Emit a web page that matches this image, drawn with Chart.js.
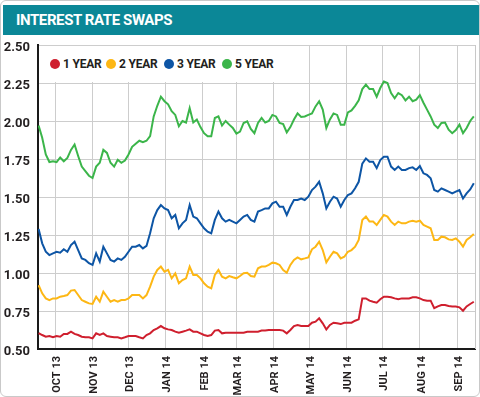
<!DOCTYPE html>
<html>
<head>
<meta charset="utf-8">
<script src="https://cdn.jsdelivr.net/npm/chart.js@4/dist/chart.umd.min.js"></script>
<style>
  html, body { margin: 0; padding: 0; background: #fff; }
  #wrap { position: relative; width: 480px; height: 397px; overflow: hidden; }
  #frame { position: absolute; left: 0; top: 0; width: 480px; height: 397px; box-sizing: border-box; border: 1px solid #c9c9c9; border-radius: 6px; pointer-events: none; }
  #title { position: absolute; left: 3px; top: 5px; width: 477px; height: 30px; background: #0b8797; color: #fff;
           font-family: "Roboto", sans-serif; font-weight: bold; font-size: 15px; line-height: 31px; padding-left: 13px; box-sizing: border-box; letter-spacing: -0.4px; }
  #legend { position: absolute; left: 39px; top: 46px; width: 252px; height: 36px; background: #fff; }
  .item { position: absolute; top: 0; height: 36px; display: flex; align-items: center;
          font-family: "Roboto", sans-serif; font-weight: bold; font-size: 12px; color: #231f20; letter-spacing: -0.2px; }
  .dot { width: 10px; height: 10px; border-radius: 50%; margin-right: 3px; }
  canvas { position: absolute; left: 0; top: 0; }
</style>
</head>
<body>
<div id="wrap">
  <canvas id="c" width="480" height="397"></canvas>
  <div id="title">INTEREST RATE SWAPS</div>
  <div id="legend"></div>
  <div id="frame"></div>
</div>
<script>
// Days since 1 Oct 2013
const days = [-14,-11,-8,-5,-2,1,4,7,10,13,16,19,22,25,28,31,34,37,40,43,46,49,52,55,58,61,64,67,70,73,76,79,82,85,88,91,94,97,100,103,106,109,112,115,118,121,124,127,130,133,136,139,142,145,148,151,154,157,160,163,166,169,172,175,178,181,184,187,190,193,196,199,202,205,208,211,214,217,220,223,226,229,232,235,238,241,244,247,250,253,256,259,262,265,268,271,274,277,280,283,286,289,292,295,298,301,304,307,310,313,316,319,322,325,328,331,334,337,340,343,346,349];

const oneYear = [0.605,0.592,0.581,0.585,0.577,0.585,0.581,0.599,0.599,0.614,0.599,0.592,0.581,0.577,0.577,0.570,0.603,0.592,0.603,0.585,0.581,0.577,0.577,0.570,0.577,0.585,0.585,0.585,0.577,0.570,0.592,0.603,0.625,0.636,0.651,0.636,0.629,0.625,0.614,0.607,0.614,0.621,0.629,0.614,0.614,0.603,0.592,0.585,0.592,0.621,0.625,0.603,0.607,0.607,0.607,0.607,0.607,0.607,0.614,0.614,0.614,0.614,0.621,0.621,0.625,0.625,0.625,0.625,0.621,0.603,0.625,0.651,0.658,0.651,0.651,0.651,0.673,0.680,0.702,0.669,0.629,0.658,0.673,0.669,0.664,0.673,0.673,0.673,0.686,0.695,0.833,0.833,0.818,0.811,0.805,0.827,0.844,0.844,0.840,0.833,0.827,0.833,0.833,0.833,0.840,0.840,0.833,0.822,0.818,0.818,0.768,0.780,0.789,0.789,0.783,0.780,0.780,0.774,0.752,0.780,0.796,0.811];

const twoYear = [0.920,0.866,0.833,0.822,0.833,0.833,0.844,0.849,0.855,0.884,0.888,0.855,0.822,0.811,0.800,0.796,0.844,0.811,0.877,0.844,0.811,0.822,0.811,0.822,0.822,0.833,0.855,0.855,0.855,0.833,0.855,0.910,0.976,1.020,1.042,1.009,1.020,0.965,0.998,0.932,0.954,0.965,1.042,0.987,0.987,0.965,0.932,0.910,0.899,0.987,1.020,0.976,0.965,0.980,0.972,0.965,0.980,0.998,1.002,0.980,0.976,1.031,1.042,1.042,1.053,1.068,1.064,1.053,1.020,1.002,1.053,1.086,1.103,1.090,1.096,1.103,1.156,1.173,1.206,1.151,1.070,1.107,1.140,1.129,1.096,1.107,1.140,1.151,1.173,1.217,1.349,1.371,1.338,1.338,1.316,1.349,1.382,1.371,1.338,1.316,1.338,1.327,1.327,1.338,1.344,1.338,1.344,1.316,1.305,1.294,1.217,1.217,1.239,1.235,1.221,1.217,1.228,1.206,1.173,1.217,1.235,1.257];

const threeYear = [1.290,1.195,1.140,1.118,1.129,1.140,1.134,1.156,1.140,1.184,1.206,1.151,1.096,1.086,1.064,1.053,1.129,1.075,1.173,1.129,1.086,1.075,1.096,1.086,1.107,1.140,1.173,1.173,1.184,1.162,1.178,1.261,1.360,1.414,1.447,1.425,1.414,1.360,1.382,1.294,1.327,1.349,1.447,1.371,1.360,1.327,1.294,1.272,1.261,1.349,1.404,1.360,1.338,1.349,1.338,1.327,1.349,1.371,1.382,1.349,1.338,1.404,1.414,1.425,1.425,1.458,1.469,1.436,1.436,1.382,1.436,1.480,1.480,1.490,1.480,1.502,1.546,1.568,1.600,1.524,1.425,1.469,1.502,1.490,1.436,1.480,1.513,1.524,1.557,1.600,1.720,1.754,1.732,1.732,1.690,1.743,1.765,1.765,1.700,1.678,1.700,1.678,1.678,1.690,1.695,1.678,1.704,1.656,1.645,1.623,1.546,1.535,1.557,1.546,1.535,1.524,1.535,1.546,1.490,1.524,1.550,1.590];

const fiveYear = [1.970,1.890,1.780,1.730,1.735,1.730,1.760,1.735,1.757,1.810,1.845,1.770,1.700,1.670,1.640,1.625,1.700,1.725,1.810,1.790,1.725,1.700,1.745,1.725,1.740,1.780,1.830,1.850,1.870,1.860,1.870,1.900,2.030,2.100,2.160,2.130,2.110,2.065,2.040,1.965,2.000,1.990,2.085,1.990,2.010,1.960,1.920,1.900,1.900,2.020,2.030,1.970,2.000,1.976,1.954,1.917,1.930,1.987,1.998,1.948,1.920,1.987,2.020,1.990,2.000,2.040,2.030,1.987,1.980,1.925,1.960,2.010,2.050,2.027,2.030,2.040,2.050,2.096,2.130,2.075,1.954,2.010,2.050,2.040,1.976,1.976,2.057,2.070,2.100,2.136,2.210,2.240,2.210,2.210,2.160,2.217,2.260,2.250,2.184,2.150,2.184,2.170,2.136,2.160,2.130,2.140,2.170,2.120,2.075,2.030,1.976,1.954,1.987,1.990,1.943,1.920,1.940,1.976,1.920,1.954,2.000,2.030];

const seriesNames = ['1 YEAR', '2 YEAR', '3 YEAR', '5 YEAR'];
const seriesColors = ['#cf1f2e', '#fdb714', '#0d55a5', '#3bb54a'];
const monthStarts = [0, 31, 61, 92, 123, 151, 182, 212, 243, 273, 304, 335];
const monthLabels = ['OCT 13', 'NOV 13', 'DEC 13', 'JAN 14', 'FEB 14', 'MAR 14', 'APR 14', 'MAY 14', 'JUN 14', 'JUL 14', 'AUG 14', 'SEP 14'];
const yTicks = [0.50, 0.75, 1.00, 1.25, 1.50, 1.75, 2.00, 2.25, 2.50];

const seriesValues = [oneYear, twoYear, threeYear, fiveYear];

// HTML legend
const leg = document.getElementById('legend');
const legLeft = [11, 67, 125, 183];
seriesNames.forEach((n, i) => {
  const it = document.createElement('div');
  it.className = 'item';
  it.style.left = legLeft[i] + 'px';
  const d = document.createElement('span');
  d.className = 'dot';
  d.style.background = seriesColors[i];
  it.appendChild(d);
  it.appendChild(document.createTextNode(n));
  leg.appendChild(it);
});

const rightEdge = {
  id: 'rightEdge',
  beforeDatasetsDraw(chart) {
    const { ctx, chartArea } = chart;
    ctx.save();
    ctx.strokeStyle = '#c8c8c8';
    ctx.lineWidth = 1;
    ctx.beginPath();
    ctx.moveTo(chartArea.right + 0.5, chartArea.top);
    ctx.lineTo(chartArea.right + 0.5, chartArea.bottom);
    ctx.stroke();
    ctx.restore();
  }
};

const datasets = seriesValues.map((vals, i) => ({
  label: seriesNames[i],
  data: vals.map((v, k) => ({ x: days[k], y: v })),
  borderColor: seriesColors[i],
  backgroundColor: seriesColors[i],
  borderWidth: 2,
  pointRadius: 0,
  tension: 0,
  fill: false
}));

new Chart(document.getElementById('c'), {
  type: 'line',
  data: { datasets },
  options: {
    responsive: false,
    animation: false,
    devicePixelRatio: 1,
    layout: { padding: { top: 45, right: 5, bottom: 0, left: 0 } },
    plugins: { legend: { display: false }, tooltip: { enabled: false }, title: { display: false } },
    scales: {
      x: {
        type: 'linear',
        min: -14.5,
        max: 350,
        afterBuildTicks: (s) => { s.ticks = monthStarts.map(v => ({ value: v })); },
        afterFit: (s) => { s.height = 48; },
        ticks: {
          autoSkip: false,
          maxRotation: 90,
          minRotation: 90,
          padding: 7,
          labelOffset: 2,
          color: '#231f20',
          font: { family: 'Roboto, sans-serif', weight: 'bold', size: 11 },
          callback: (v) => { const i = monthStarts.indexOf(v); return i >= 0 ? monthLabels[i] : ''; }
        },
        grid: { color: '#cdcdcd', lineWidth: 1, drawTicks: false },
        border: { color: '#1a1a1a', width: 2 }
      },
      y: {
        min: 0.5,
        max: 2.5,
        afterBuildTicks: (s) => { s.ticks = yTicks.map(v => ({ value: v })); },
        afterFit: (s) => { s.width = 38; },
        ticks: {
          padding: 8,
          labelOffset: 3,
          color: '#231f20',
          font: { family: 'Roboto, sans-serif', weight: 'bold', size: 13 },
          callback: (v) => Number(v).toFixed(2)
        },
        grid: { color: '#cdcdcd', lineWidth: 1, drawTicks: false },
        border: { color: '#1a1a1a', width: 2 }
      }
    }
  },
  plugins: [rightEdge]
});
</script>
</body>
</html>
